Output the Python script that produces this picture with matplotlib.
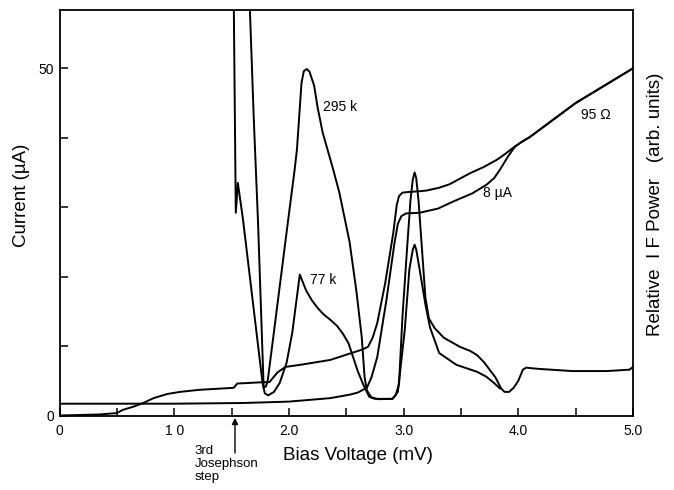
import matplotlib
matplotlib.use("Agg")
import matplotlib.pyplot as plt

plt.rcParams['font.family'] = ['Liberation Sans', 'DejaVu Sans']

# Pumped I-V curve (mV, uA)
iv_pumped_v = [0.0, 0.35, 0.5, 0.55, 0.65, 0.73, 0.82, 0.94, 1.05, 1.22, 1.48, 1.52, 1.55, 1.78,
               1.83, 1.9, 1.97, 2.1, 2.36, 2.64, 2.69, 2.73, 2.77, 2.84, 2.91, 2.94, 2.96, 2.99,
               3.05, 3.14, 3.2, 3.31, 3.4, 3.58, 3.7, 3.81, 3.88, 3.95, 4.02, 4.10, 4.5, 5.0]
iv_pumped_i = [0.0, 0.15, 0.35, 0.8, 1.3, 1.8, 2.5, 3.1, 3.4, 3.7, 3.95, 4.0, 4.6, 4.8,
               4.8, 6.2, 7.0, 7.3, 8.0, 9.5, 9.9, 11.2, 13.3, 19.1, 26.3, 30.3, 31.6, 32.1,
               32.2, 32.3, 32.4, 32.8, 33.3, 34.9, 35.8, 36.8, 37.6, 38.5, 39.3, 40.1, 45.0, 50.0]

# Unpumped I-V curve
iv_dark_v = [0.0, 1.0, 1.6, 2.0, 2.36, 2.53, 2.60, 2.68, 2.72, 2.77, 2.85, 2.92, 2.95, 2.98,
             3.02, 3.14, 3.3, 3.43, 3.6, 3.72, 3.79, 3.84, 3.91, 3.97, 4.02, 4.10, 4.5, 5.0]
iv_dark_i = [1.7, 1.7, 1.8, 2.0, 2.5, 3.0, 3.3, 4.0, 5.5, 8.4, 16.6, 24.8, 27.6, 28.7,
             29.1, 29.2, 29.8, 30.8, 32.0, 33.2, 34.2, 35.4, 37.3, 38.7, 39.3, 40.1, 45.0, 50.0]

# IF power, 295 K load (arb. units, drawn on the same scale)
if295_v = [1.655, 1.66, 1.694, 1.73, 1.78, 1.80, 1.816, 1.90, 1.99, 2.05, 2.07, 2.11, 2.13,
           2.156, 2.18, 2.22, 2.25, 2.295, 2.38, 2.44, 2.53, 2.59, 2.635, 2.66, 2.68, 2.72,
           2.78, 2.90, 2.93, 2.96, 2.99, 3.03, 3.06, 3.08, 3.096, 3.11, 3.13, 3.16, 3.19,
           3.22, 3.27, 3.35, 3.49, 3.58, 3.64, 3.70, 3.75, 3.80, 3.85, 3.88, 3.92, 3.96,
           4.0, 4.04, 4.07, 4.12, 4.19, 4.47, 4.77, 4.97, 5.0]
if295_p = [70.0, 58.4, 42.6, 28.2, 4.0, 4.2, 5.1, 16.0, 27.7, 35.4, 38.3, 47.9, 49.6,
           49.9, 49.5, 47.5, 44.4, 40.7, 35.8, 32.1, 24.9, 17.7, 11.3, 5.5, 3.6, 2.6,
           2.35, 2.4, 2.9, 4.5, 14.2, 24.0, 31.0, 34.0, 35.0, 34.2, 31.0, 24.0, 17.0,
           14.0, 12.6, 11.2, 9.9, 9.3, 8.7, 7.7, 6.6, 5.5, 3.9, 3.4, 3.4, 4.0,
           5.0, 6.6, 6.9, 6.8, 6.7, 6.4, 6.4, 6.6, 7.0]

# IF power, 77 K load
if77_v = [1.515, 1.52, 1.537, 1.555, 1.572, 1.60, 1.77, 1.79, 1.82, 1.87, 1.92, 1.98, 2.03,
          2.07, 2.095, 2.15, 2.20, 2.25, 2.30, 2.36, 2.42, 2.47, 2.52, 2.56, 2.60, 2.65, 2.70,
          2.75, 2.905, 2.95, 3.01, 3.05, 3.08, 3.096, 3.11, 3.14, 3.19, 3.23, 3.31, 3.46,
          3.64, 3.72, 3.78, 3.84]
if77_p = [70.0, 58.4, 29.2, 33.5, 31.5, 28.2, 4.7, 3.2, 2.9, 3.4, 4.7, 7.6, 12.0,
          17.1, 20.3, 18.0, 16.6, 15.5, 14.6, 13.8, 12.9, 11.8, 10.4, 8.4, 6.4, 4.4, 2.7,
          2.4, 2.4, 3.4, 12.3, 21.0, 23.9, 24.6, 23.9, 21.0, 16.0, 12.7, 9.0, 7.3,
          6.3, 5.6, 4.8, 3.9]

xtick_pos = [0.0, 1.0, 2.0, 3.0, 4.0, 5.0]
xtick_labels = ["0", "1 0", "2.0", "3.0", "4.0", "5.0"]
ytick_pos = [0, 10, 20, 30, 40, 50]
ytick_labels = ["0", "", "", "", "", "50"]

W, H = 674, 490
fig = plt.figure(figsize=(W / 100, H / 100), dpi=100)
ax = fig.add_axes([59.5 / W, 1 - 415.5 / H, (633 - 59.5) / W, (415.5 - 10) / H])

lw = 1.4
for xs, ys in [(iv_pumped_v, iv_pumped_i), (iv_dark_v, iv_dark_i),
               (if295_v, if295_p), (if77_v, if77_p)]:
    ax.plot(xs, ys, color='black', lw=lw, solid_joinstyle='round')

ax.set_xlim(0, 5.0)
ax.set_ylim(0, 58.4)

ax.set_xticks(xtick_pos)
ax.set_xticklabels(xtick_labels, fontsize=10)
ax.set_xticks([0.5, 1.5, 2.5, 3.5, 4.5], minor=True)
ax.set_yticks(ytick_pos)
ax.set_yticklabels(ytick_labels, fontsize=10)
ax.tick_params(axis='both', which='both', direction='in', length=6, width=1.1, colors='black')
ax.tick_params(axis='x', pad=6)
ax.tick_params(axis='y', pad=4)
for s in ax.spines.values():
    s.set_linewidth(1.3)

ax.text(2.30, 44.4, "295 k", fontsize=10, va='center', ha='left')
ax.text(2.18, 19.5, "77 k", fontsize=10, va='center', ha='left')
ax.text(3.69, 32.1, "8 \u00b5A", fontsize=10, va='center', ha='left')
ax.text(4.55, 43.3, "95 \u03a9", fontsize=10, va='center', ha='left')

# annotation for 3rd Josephson step
ax.annotate("", xy=(1.53, -0.35), xytext=(1.53, -5.4), xycoords='data', textcoords='data',
            arrowprops=dict(arrowstyle='-|>', color='black', lw=1.0, mutation_scale=9,
                            shrinkA=0, shrinkB=0), annotation_clip=False)
ax.text(1.18, -4.3, "3rd\nJosephson\nstep", fontsize=9.5, va='top', ha='left',
        linespacing=1.1, clip_on=False)

fig.text(358 / W, 1 - 455 / H, "Bias Voltage (mV)", fontsize=13.5, ha='center', va='center')
fig.text(22 / W, 1 - 195 / H, "Current (\u00b5A)", fontsize=13.5, ha='center', va='center',
         rotation=90)
fig.text(655 / W, 1 - 204 / H, "Relative  I F Power   (arb. units)", fontsize=13.5,
         ha='center', va='center', rotation=90)

fig.savefig("out.png", dpi=100)
